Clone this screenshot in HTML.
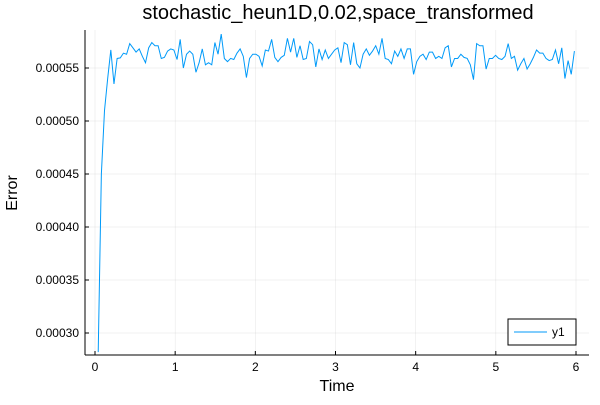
<!DOCTYPE html>
<html><head><meta charset="utf-8"><style>
body{margin:0;background:#fff;}
svg text{font-family:"Liberation Sans",sans-serif;fill:#000;}
</style></head><body>
<svg width="600" height="400" id="chart" xmlns="http://www.w3.org/2000/svg"></svg>
<script>
const values = [
0.000282,0.000450,0.000510,0.000540,
0.000567,0.000535,0.000559,0.0005595,0.000564,0.000563,0.000573,0.000569,0.000565,0.000568,0.000561,0.000555,0.000569,0.000574,0.000571,0.000571,0.000559,0.000560,0.000566,0.000568,0.000567,0.000558,0.000577,0.000550,0.000563,0.000566,0.000563,0.000546,0.000555,0.000568,0.000553,0.000555,0.000553,0.000574,0.000563,0.000582,0.000559,0.000556,0.000559,0.000558,0.000564,0.000568,0.000561,0.000541,0.000559,0.000563,
0.000563,0.000561,0.000552,0.000567,0.000566,0.000577,0.000560,0.000556,0.000560,0.000562,0.000578,0.000565,0.000578,0.000560,0.000571,0.000558,0.000559,0.000575,0.000572,0.000551,0.000568,0.000558,0.000567,0.000559,0.000563,0.000567,0.000569,0.000555,0.000574,0.000572,0.000553,0.000574,0.000554,0.000550,0.000563,0.000568,0.000562,0.000566,0.000571,0.000563,0.000578,0.000559,0.000558,0.000554,0.000566,0.000561,0.000568,0.000559,0.000568,0.000568,0.000544,0.000556,0.000561,
0.000563,0.000558,0.000565,0.000565,0.000559,0.000561,0.000559,0.000569,0.000571,0.000551,0.000559,0.000559,0.000563,0.000560,0.000559,0.000553,0.000539,0.000573,0.000571,0.000571,0.000549,0.000559,0.000559,0.000562,0.000559,0.000558,0.000561,0.000573,0.000559,0.000561,0.000548,0.000554,0.000559,0.000549,0.000554,0.000560,0.000567,0.000564,0.000564,0.000559,0.000557,0.000558,0.000567,0.000554,0.000569,0.000540,0.000557,0.000544,0.000566
];
const tStart = 0.04, tEnd = 5.98;
const xTicks = [0,1,2,3,4,5,6];
const yTicks = [0.00030,0.00035,0.00040,0.00045,0.00050,0.00055];
const yTickLabels = ["0.00030","0.00035","0.00040","0.00045","0.00050","0.00055"];

const L=85,R=589,T=30,B=355;
const xs = t => 95 + t*(576-95)/6;
const ys = v => 333 - (v-0.00030)*(265/0.00025);
const svg=document.getElementById('chart');
const NS="http://www.w3.org/2000/svg";
function mk(tag,attrs,name,txt){const e=document.createElementNS(NS,tag);for(const k in attrs)e.setAttribute(k,attrs[k]);


if(txt!==undefined)e.textContent=txt;svg.appendChild(e);return e;}
xTicks.forEach(t=>{mk('line',{x1:xs(t),x2:xs(t),y1:T,y2:B,stroke:'#000','stroke-opacity':0.1,'stroke-width':0.5},'x-grid-line');});
yTicks.forEach(v=>{mk('line',{x1:L,x2:R,y1:ys(v),y2:ys(v),stroke:'#000','stroke-opacity':0.1,'stroke-width':0.5},'y-grid-line');});
mk('line',{x1:L,x2:L,y1:T,y2:B,stroke:'#000','stroke-width':1},'y-axis');
mk('line',{x1:L,x2:R,y1:B,y2:B,stroke:'#000','stroke-width':1},'x-axis');
xTicks.forEach(t=>{mk('line',{x1:xs(t),x2:xs(t),y1:B,y2:B-4,stroke:'#000'},'x-tick');
mk('text',{x:xs(t),y:B+16,'text-anchor':'middle','font-size':12},'x-tick-label',String(t));});
yTicks.forEach((v,i)=>{mk('line',{x1:L,x2:L+4,y1:ys(v),y2:ys(v),stroke:'#000'},'y-tick');
mk('text',{x:L-6,y:ys(v)+4,'text-anchor':'end','font-size':12},'y-tick-label',yTickLabels[i]);});
const n=values.length;
let d='';values.forEach((v,i)=>{const t=tStart+i*(tEnd-tStart)/(n-1);d+=(i?'L':'M')+xs(t).toFixed(2)+','+ys(v).toFixed(2);});
mk('path',{d:d,fill:'none',stroke:'#009af9','stroke-width':1},'series-y1');
mk('text',{x:338,y:19,'text-anchor':'middle','font-size':20},'chart-title','stochastic_heun1D,0.02,space_transformed');
mk('text',{x:337,y:391,'text-anchor':'middle','font-size':16},'x-axis-title','Time');
mk('text',{x:17,y:193,'text-anchor':'middle','font-size':16,transform:'rotate(-90 17 193)'},'y-axis-title','Error');
mk('rect',{x:508,y:319,width:68,height:26,fill:'#fff',stroke:'#000','stroke-width':1},'legend-box');
mk('line',{x1:514,x2:547,y1:332,y2:332,stroke:'#009af9','stroke-width':1},'legend-line');
mk('text',{x:552,y:336,'font-size':12},'legend-label','y1');
</script>
</body></html>
